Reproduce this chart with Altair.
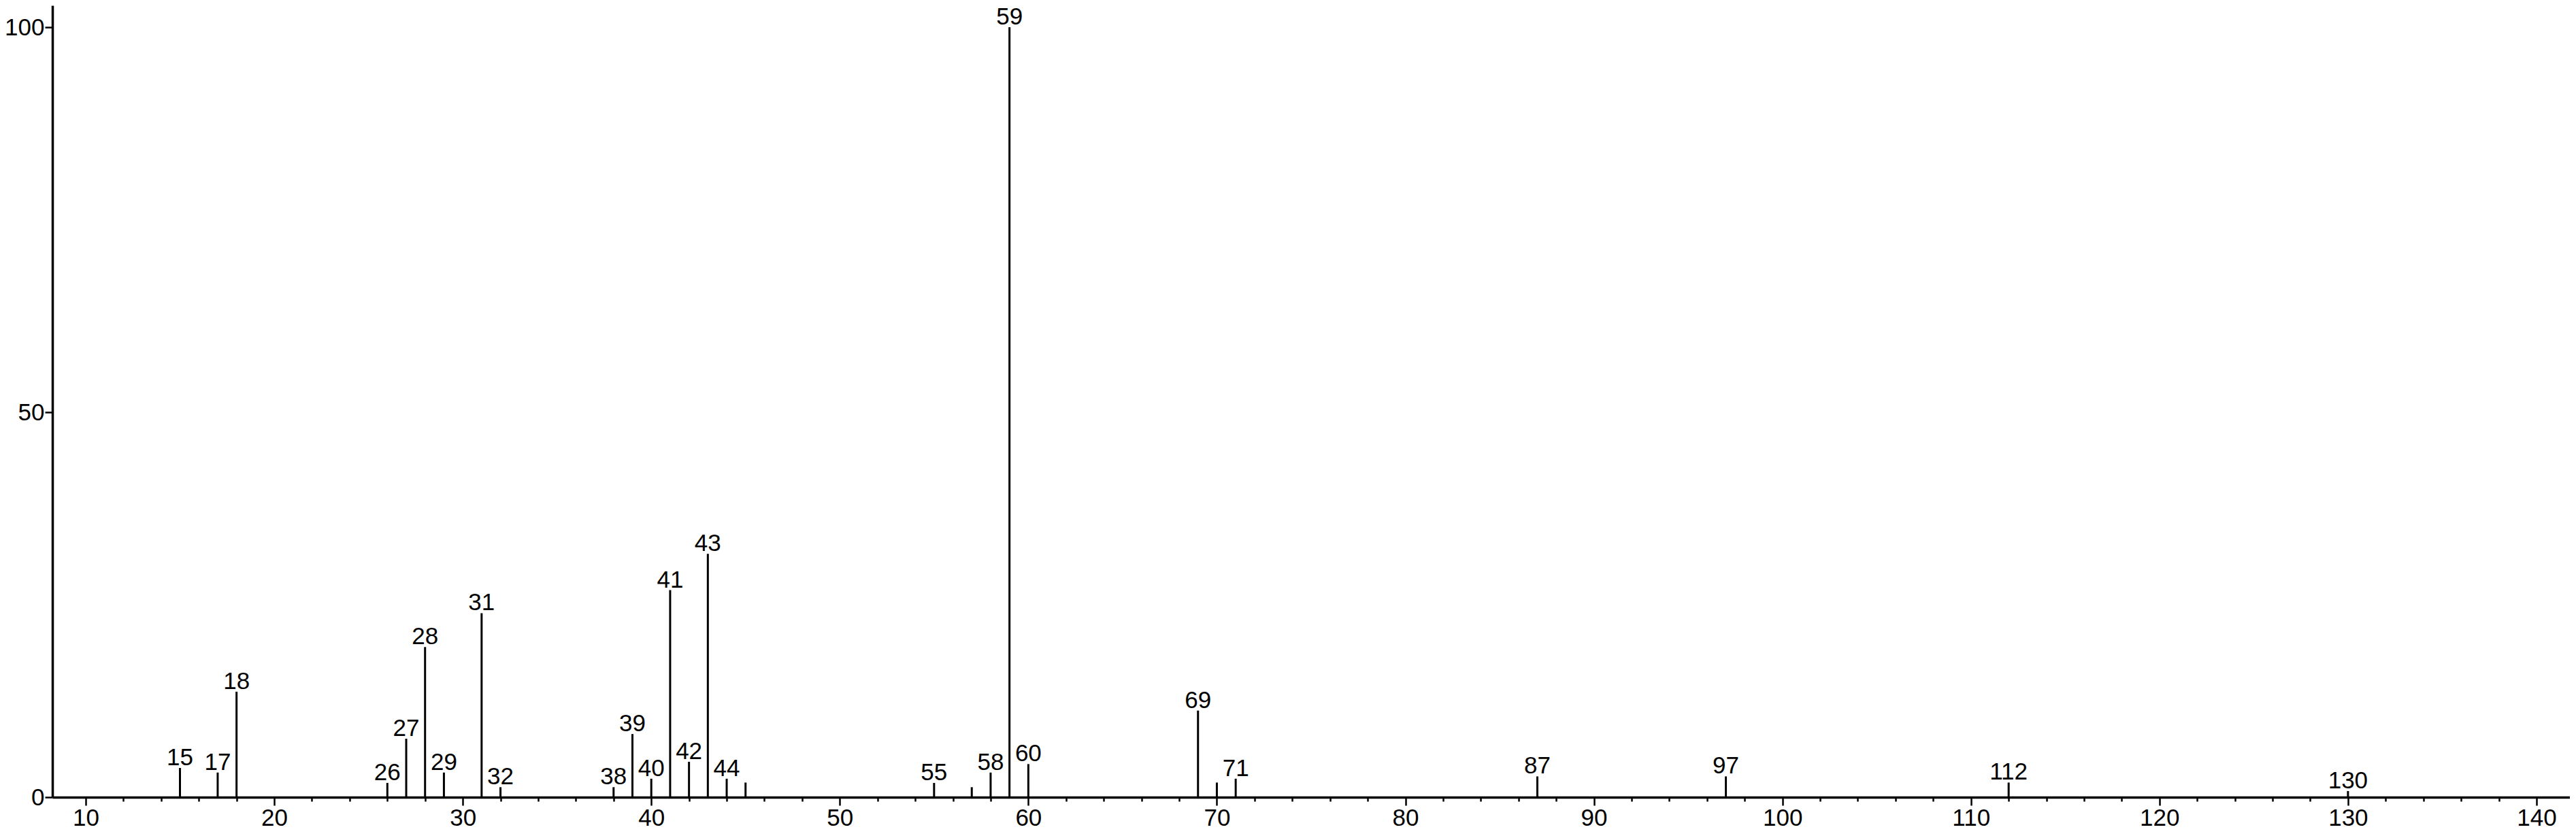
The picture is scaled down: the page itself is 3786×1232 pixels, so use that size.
import altair as alt
import pandas as pd

# m/z values of the peaks
mz = [15, 17, 18, 26, 27, 28, 29, 31, 32, 38, 39, 40, 41, 42, 43, 44, 45,
      55, 57, 58, 59, 60, 69, 70, 71, 87, 97, 112, 130]
# relative intensities (%)
intensity = [3.8, 3.2, 13.7, 1.85, 7.6, 19.5, 3.2, 23.9, 1.3, 1.3, 8.2, 2.4, 26.9,
             4.6, 31.6, 2.4, 1.9, 1.85, 1.3, 3.2, 100.0, 4.3, 11.25, 1.9, 2.4,
             2.7, 2.7, 1.9, 0.8]
# peak annotations ("" = unlabeled)
labels = ["15", "17", "18", "26", "27", "28", "29", "31", "32", "38", "39", "40",
          "41", "42", "43", "44", "", "55", "", "58", "59", "60", "69", "", "71",
          "87", "97", "112", "130"]

x_ticks = list(range(10, 142, 2))
y_ticks = [0, 50, 100]

df = pd.DataFrame({"mz": mz, "intensity": intensity, "label": labels})

FONT = "Liberation Sans"
FS = 35

x_scale = alt.Scale(domain=[8.232, 141.77], nice=False, zero=False)
y_scale = alt.Scale(domain=[0, 102.83], nice=False, zero=True)

x_axis = alt.Axis(
    values=x_ticks,
    labelExpr="datum.value % 10 == 0 ? datum.label : ''",
    tickSize={"condition": {"test": "datum.value % 10 == 0", "value": 12}, "value": 6},
    tickWidth=2.5,
    tickColor="black",
    domainColor="black",
    domainWidth=3.5,
    labelFont=FONT,
    labelFontSize=FS,
    labelColor="black",
    labelPadding=1,
    labelOverlap=False,
    labelFlush=False,
    grid=False,
    title=None,
)

y_axis = alt.Axis(
    values=y_ticks,
    tickSize=11,
    tickWidth=2.5,
    tickColor="black",
    domainColor="black",
    domainWidth=3.5,
    labelFont=FONT,
    labelFontSize=FS,
    labelColor="black",
    labelPadding=1,
    labelFlush=False,
    labelOverlap=False,
    grid=False,
    title=None,
)

base = alt.Chart(df)

peaks = base.mark_rule(color="black", strokeWidth=3).encode(
    x=alt.X("mz:Q", scale=x_scale, axis=x_axis),
    y=alt.Y("intensity:Q", scale=y_scale, axis=y_axis),
    y2=alt.datum(0),
)

texts = base.transform_filter("datum.label != ''").mark_text(
    baseline="alphabetic", align="center", dy=-4, font=FONT, fontSize=FS, color="black"
).encode(
    x=alt.X("mz:Q", scale=x_scale),
    y=alt.Y("intensity:Q", scale=y_scale),
    text="label:N",
)

chart = (
    alt.layer(peaks, texts)
    .properties(
        width=3700,
        height=1164,
        autosize=alt.AutoSizeParams(type="none"),
        padding={"left": 69, "top": 0, "right": 0, "bottom": 50},
        background="white",
    )
    .configure_view(stroke=None)
)

chart.save("out.html", embed_options={"renderer": "svg", "actions": False})
